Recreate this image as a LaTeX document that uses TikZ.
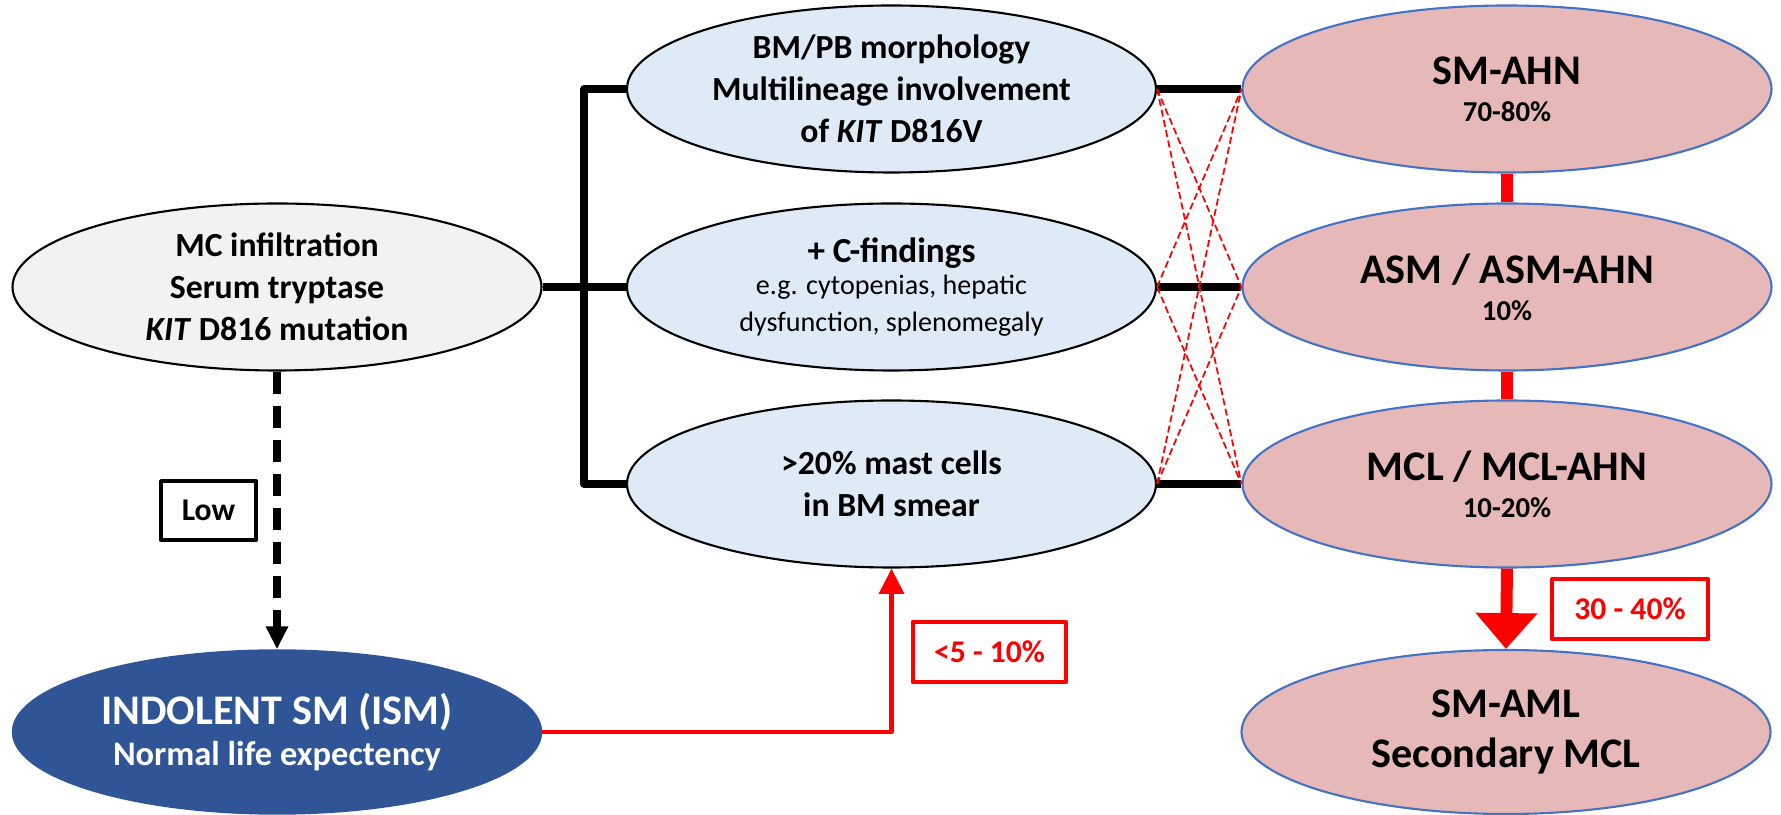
\documentclass[tikz,border=0pt]{standalone}
\usepackage{fontspec}
\setmainfont{Carlito}
\usepackage{xcolor}
\usetikzlibrary{arrows.meta,positioning,shapes.geometric}
\definecolor{ovalgrey}{HTML}{F2F2F2}
\definecolor{ovalblue}{HTML}{DEEBF7}
\definecolor{ovalpink}{HTML}{E6B9B8}
\definecolor{ovaledge}{HTML}{4472C4}
\definecolor{ismblue}{HTML}{2F5597}

\begin{document}
\begin{tikzpicture}[
  line join=round,
  oval/.style={ellipse,inner sep=0pt,minimum width=5.29cm,minimum height=1.67cm,
    align=center,font=\bfseries\fontsize{9.6}{12}\selectfont},
  greyoval/.style={oval,draw=black,line width=0.6pt,fill=ovalgrey},
  blueoval/.style={oval,draw=black,line width=0.6pt,fill=ovalblue},
  pinkoval/.style={oval,draw=ovaledge,line width=0.6pt,fill=ovalpink,
    font=\bfseries\fontsize{12}{14}\selectfont},
  ismoval/.style={oval,minimum height=1.64cm,draw=ismblue,fill=ismblue,text=white,
    font=\bfseries\fontsize{12}{14}\selectfont},
  mainline/.style={black,line width=2.1pt},
  redbar/.style={red,line width=3.3pt},
  crossline/.style={red,line width=0.5pt,dash pattern=on 2pt off 1pt},
  lowbox/.style={draw=black,line width=1.1pt,minimum width=0.95cm,minimum height=0.59cm,
    inner sep=0pt,font=\bfseries\fontsize{9}{11}\selectfont},
  ratebox/.style={draw=red,line width=1.3pt,text=red,minimum height=0.6cm,
    inner sep=0pt,font=\bfseries\fontsize{9}{11}\selectfont}
]
\path[use as bounding box] (0,0) rectangle (17.81,8.14);

% left column
\node[greyoval] (mc) at (2.77,5.27)
  {MC infiltration\\Serum tryptase\\\textit{KIT} D816 mutation};
\node[ismoval] (ism) at (2.77,0.82)
  {INDOLENT SM (ISM)\\[-2.3pt]{\fontsize{9.8}{12}\selectfont Normal life expectency}};

% middle column
\node[blueoval] (morph) at (8.915,7.25)
  {BM/PB morphology\\Multilineage involvement\\of \textit{KIT} D816V};
\node[blueoval] (cfind) at (8.915,5.27)
  {{\fontsize{10}{12}\selectfont + C-findings}\\[-3pt]
   {\mdseries\fontsize{8}{10}\selectfont e.g. cytopenias, hepatic}\\[-1.5pt]
   {\mdseries\fontsize{8}{10}\selectfont dysfunction, splenomegaly}};
\node[blueoval] (smear) at (8.915,3.30)
  {{>}20\% mast cells\\in BM smear};

% right column
\node[pinkoval] (smahn) at (15.07,7.25)
  {SM-AHN\\[-3.5pt]{\fontsize{8.2}{10}\selectfont 70-80\%}};
\node[pinkoval] (asm) at (15.07,5.27)
  {ASM / ASM-AHN\\[-3.5pt]{\fontsize{8.2}{10}\selectfont 10\%}};
\node[pinkoval] (mcl) at (15.07,3.30)
  {MCL / MCL-AHN\\[-3.5pt]{\fontsize{8.2}{10}\selectfont 10-20\%}};
\node[pinkoval,minimum height=1.64cm] (aml) at (15.06,0.82)
  {SM-AML\\Secondary MCL};

% branching bar
\coordinate (bar) at (5.84,5.27);
\draw[mainline] (mc.east) -- (cfind.west);
\draw[mainline] (morph.west) -| (bar) |- (smear.west);

\draw[mainline] (morph.east) -- (smahn.west);
\draw[mainline] (cfind.east) -- (asm.west);
\draw[mainline] (smear.east) -- (mcl.west);

\foreach \a/\b in {morph/asm,morph/mcl,cfind/smahn,cfind/mcl,smear/smahn,smear/asm}
  \draw[crossline] (\a.east) -- (\b.west);

\draw[redbar] (smahn.south) -- (asm.north);
\draw[redbar] (asm.south) -- (mcl.north);
\draw[red,line width=3.4pt,-{Triangle[width=17pt,length=10.2pt]}] (mcl.south) -- (aml.north);
\node[ratebox,minimum width=1.56cm] (highrate) at (16.30,2.05) {30 - 40\%};

% progression from ISM
\draw[black,line width=2pt,dash pattern=on 0.22cm off 0.12cm,
  -{Triangle[width=6pt,length=6.5pt]}] (mc.south) -- (ism.north);
\node[lowbox] (low) at (2.085,3.035) {Low};

\draw[red,line width=1.2pt,-{Triangle[width=7pt,length=7.2pt]}] (ism.east) -| (smear.south);
\node[ratebox,minimum width=1.53cm] (lowrate) at (9.895,1.62) {<5 - 10\%};
\end{tikzpicture}
\end{document}
